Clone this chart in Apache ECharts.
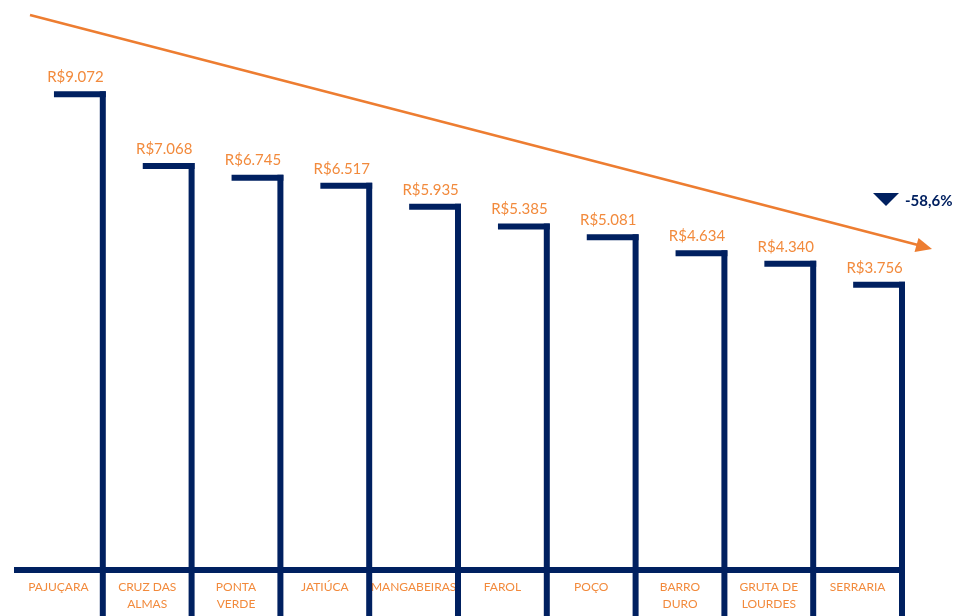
<!DOCTYPE html>
<html>
<head>
<meta charset="utf-8">
<script src="https://cdn.jsdelivr.net/npm/echarts@6/dist/echarts.min.js"></script>
<style>html,body{margin:0;padding:0;background:#fff;}#c{width:956px;height:616px;}</style>
</head>
<body>
<div id="c"></div>
<script>
const categories = ['PAJUÇARA', 'CRUZ DAS\nALMAS', 'PONTA\nVERDE', 'JATIÚCA', 'MANGABEIRAS', 'FAROL', 'POÇO', 'BARRO\nDURO', 'GRUTA DE\nLOURDES', 'SERRARIA'];
const values = [9072, 7068, 6745, 6517, 5935, 5385, 5081, 4634, 4340, 3756];
const changeLabel = '-58,6%';

const NAVY = '#002060';
const ORANGE = '#F28A3C';
const ARROW = '#ED7D31';

function brl(v) {
  return 'R$' + Math.floor(v / 1000) + '.' + String(v % 1000).padStart(3, '0');
}

const chart = echarts.init(document.getElementById('c'));

const option = {
  backgroundColor: '#fff',
  animation: false,
  grid: { left: 14, right: 54, top: 0, bottom: 46 },
  xAxis: {
    type: 'category',
    data: categories,
    axisTick: { show: false },
    axisLine: { onZero: false, lineStyle: { color: NAVY, width: 6, cap: 'butt' } },
    axisLabel: { interval: 0, color: ORANGE, fontFamily: 'Lato', fontSize: 12, lineHeight: 17, margin: 9 },
    splitLine: { show: false }
  },
  yAxis: { type: 'value', min: -4200, max: 11700, show: false, splitLine: { show: false } },
  series: [{
    type: 'custom',
    clip: false,
    data: values.map((v, i) => [i, v]),
    renderItem: function (params, api) {
      const idx = api.value(0), v = api.value(1);
      const p = api.coord([idx, v]);
      const bw = api.size([1, 0])[0];
      const H = api.getHeight();
      const cx = p[0], top = p[1];
      const right = cx + bw / 2;
      const xs = cx - bw * 0.05;
      return {
        type: 'group',
        children: [
          { type: 'rect', shape: { x: xs, y: top - 3, width: right + 3 - xs, height: 6 }, style: { fill: NAVY } },
          { type: 'rect', shape: { x: right - 3, y: top - 3, width: 6, height: H - top + 3 }, style: { fill: NAVY } },
          { type: 'text', x: cx + 17, y: top - 17, style: { text: brl(v), fill: ORANGE, font: '15px Lato', textAlign: 'center', textVerticalAlign: 'middle' } }
        ]
      };
    }
  }],
  graphic: [
    { type: 'line', shape: { x1: 30, y1: 15, x2: 918, y2: 245 }, style: { stroke: ARROW, lineWidth: 2.5 } },
    { type: 'polygon', shape: { points: [[932, 249], [914.5, 252], [918.5, 238]] }, style: { fill: ARROW } },
    { type: 'polygon', shape: { points: [[873, 193], [899, 193], [886, 206]] }, style: { fill: NAVY } },
    { type: 'text', x: 905, y: 201, style: { text: changeLabel, fill: NAVY, font: 'bold 15px Lato', textAlign: 'left', textVerticalAlign: 'middle' } }
  ]
};
chart.setOption(option);
</script>
</body>
</html>
